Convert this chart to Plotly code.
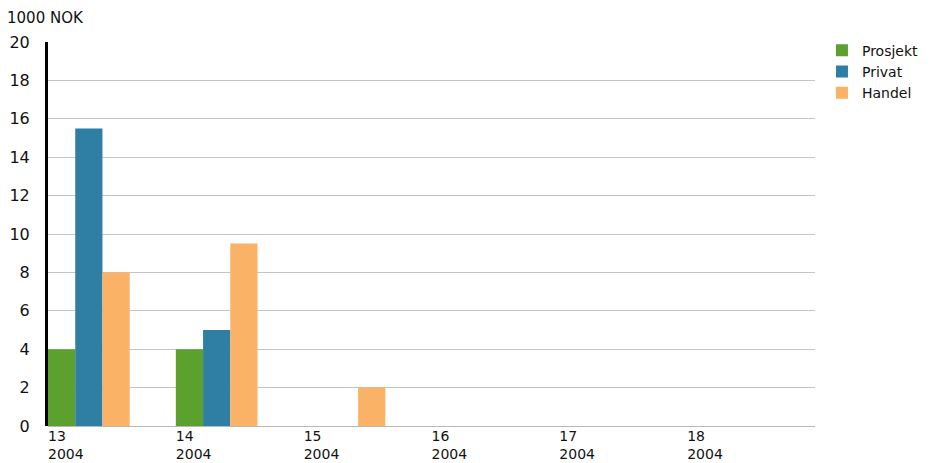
import plotly.graph_objects as go

# Weekly figures (in 1000 NOK) per customer segment
weeks = ["13", "14", "15", "16", "17", "18"]
year = "2004"
prosjekt = [4, 4, 0, 0, 0, 0]
privat = [15.5, 5, 0, 0, 0, 0]
handel = [8, 9.5, 2, 0, 0, 0]

series = [
    ("Prosjekt", prosjekt, "#5ca12e"),
    ("Privat", privat, "#2f7ea3"),
    ("Handel", handel, "#fab266"),
]

font_family = "DejaVu Sans, Verdana, sans-serif"
bar_w = 0.213
positions = list(range(len(weeks)))

fig = go.Figure()
for k, (name, vals, color) in enumerate(series):
    fig.add_trace(go.Bar(
        x=positions,
        y=vals,
        name=name,
        width=bar_w,
        offset=k * bar_w,
        marker=dict(color=color, line=dict(width=0)),
    ))

fig.update_layout(
    width=941,
    height=463,
    barmode="overlay",
    plot_bgcolor="white",
    paper_bgcolor="white",
    margin=dict(l=48, r=126, t=42, b=37, autoexpand=False),
    font=dict(family=font_family, size=14, color="#111111"),
    showlegend=True,
    legend=dict(
        xref="container", yref="container",
        x=0.8735, y=0.925, xanchor="left", yanchor="top",
        font=dict(size=14, color="#111111"),
        bgcolor="rgba(0,0,0,0)",
        itemwidth=30,
        tracegroupgap=0,
    ),
    xaxis=dict(
        range=[0, 6],
        tickmode="array",
        tickvals=positions,
        ticktext=[f"{w}<br>{year}" for w in weeks],
        ticklabelposition="outside right",
        showgrid=False,
        zeroline=False,
        showline=False,
        ticks="",
        tickfont=dict(size=14),
        automargin=False,
    ),
    yaxis=dict(
        range=[0, 20],
        dtick=2,
        showgrid=True,
        gridcolor="#c4c4c4",
        gridwidth=1,
        zeroline=True,
        zerolinecolor="#b8b8b8",
        zerolinewidth=1,
        showline=True,
        linecolor="#000000",
        linewidth=3,
        ticks="",
        ticklabelstandoff=12,
        tickfont=dict(size=16),
        automargin=False,
    ),
    annotations=[
        dict(
            text="1000 NOK",
            xref="paper", yref="paper",
            x=-0.0561, y=1.0625, xanchor="left", yanchor="middle",
            showarrow=False,
            font=dict(size=15, color="#111111"),
        )
    ],
)

fig.write_html("out.html")
